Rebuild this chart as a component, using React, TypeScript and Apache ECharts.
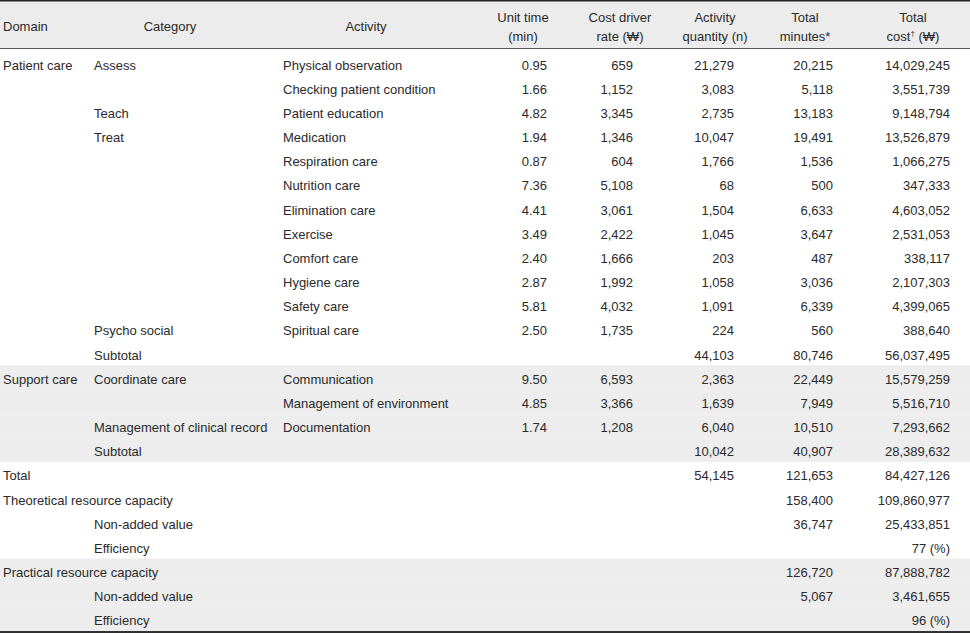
import React, { useEffect, useRef } from "react";
import * as echarts from "echarts";

// ---------- data ----------
const domainCol = [
  "Patient care", "", "", "", "", "", "", "", "", "", "", "", "",
  "Support care", "", "", "",
  "Total", "Theoretical resource capacity", "", "", "Practical resource capacity", "", "",
];
const categoryCol = [
  "Assess", "", "Teach", "Treat", "", "", "", "", "", "", "", "Psycho social", "Subtotal",
  "Coordinate care", "", "Management of clinical record", "Subtotal",
  "", "", "Non-added value", "Efficiency", "", "Non-added value", "Efficiency",
];
const activityCol = [
  "Physical observation", "Checking patient condition", "Patient education", "Medication",
  "Respiration care", "Nutrition care", "Elimination care", "Exercise", "Comfort care",
  "Hygiene care", "Safety care", "Spiritual care", "",
  "Communication", "Management of environment", "Documentation", "",
  "", "", "", "", "", "", "",
];
const unitTime = [
  0.95, 1.66, 4.82, 1.94, 0.87, 7.36, 4.41, 3.49, 2.4, 2.87, 5.81, 2.5, null,
  9.5, 4.85, 1.74, null, null, null, null, null, null, null, null,
];
const costDriverRate = [
  659, 1152, 3345, 1346, 604, 5108, 3061, 2422, 1666, 1992, 4032, 1735, null,
  6593, 3366, 1208, null, null, null, null, null, null, null, null,
];
const activityQuantity = [
  21279, 3083, 2735, 10047, 1766, 68, 1504, 1045, 203, 1058, 1091, 224, 44103,
  2363, 1639, 6040, 10042, 54145, null, null, null, null, null, null,
];
const totalMinutes = [
  20215, 5118, 13183, 19491, 1536, 500, 6633, 3647, 487, 3036, 6339, 560, 80746,
  22449, 7949, 10510, 40907, 121653, 158400, 36747, null, 126720, 5067, null,
];
const totalCost = [
  14029245, 3551739, 9148794, 13526879, 1066275, 347333, 4603052, 2531053, 338117,
  2107303, 4399065, 388640, 56037495, 15579259, 5516710, 7293662, 28389632,
  84427126, 109860977, 25433851, null, 87888782, 3461655, null,
];
const efficiencyPct = [
  null, null, null, null, null, null, null, null, null, null, null, null, null,
  null, null, null, null, null, null, null, 77, null, null, 96,
];
const shadedRows = [13, 14, 15, 16, 21, 22, 23];
const headerLines: string[][] = [
  ["Domain"], ["Category"], ["Activity"], ["Unit time", "(min)"], ["Cost driver", "rate (₩)"],
  ["Activity", "quantity (n)"], ["Total", "minutes*"], ["Total", "cost{s|†} (₩)"],
];

// ---------- layout ----------
const W = 970;
const H = 634;
const FONT = '"Liberation Sans", Arial, sans-serif';
const TXT = "#2a2a2a";
const SHADE = "#ededed";
const colLayout = [
  { x: 3, align: "left", hx: 3, halign: "left" },
  { x: 94, align: "left", hx: 170, halign: "center" },
  { x: 283, align: "left", hx: 366, halign: "center" },
  { x: 547, align: "right", hx: 523, halign: "center" },
  { x: 633, align: "right", hx: 620, halign: "center" },
  { x: 734, align: "right", hx: 715, halign: "center" },
  { x: 833, align: "right", hx: 805, halign: "center" },
  { x: 950, align: "right", hx: 913, halign: "center" },
];

const fmt = (v: number | null) => (v == null ? "" : v.toLocaleString("en-US"));

type Cell = { c: number; r: number; text: string };
const cells: Cell[] = [];
for (let r = 0; r < domainCol.length; r++) {
  const row = [
    domainCol[r],
    categoryCol[r],
    activityCol[r],
    unitTime[r] == null ? "" : (unitTime[r] as number).toFixed(2),
    fmt(costDriverRate[r]),
    fmt(activityQuantity[r]),
    fmt(totalMinutes[r]),
    efficiencyPct[r] != null ? `${efficiencyPct[r]} (%)` : fmt(totalCost[r]),
  ];
  row.forEach((t, c) => {
    if (t) cells.push({ c, r, text: t });
  });
}

export default function App() {
  const ref = useRef<HTMLDivElement>(null);
  useEffect(() => {
    if (!ref.current) return;
    const chart = echarts.init(ref.current, undefined, { renderer: "svg" });

    const headerEls: any[] = [
      { type: "rect", shape: { x: 0, y: 1.5, width: W, height: 47 }, style: { fill: "#ececec" }, z: 0 },
      { type: "line", shape: { x1: 0, y1: 0.75, x2: W, y2: 0.75 }, style: { stroke: "#231f20", lineWidth: 1.5 }, z: 5 },
      { type: "line", shape: { x1: 0, y1: 48.5, x2: W, y2: 48.5 }, style: { stroke: "#555", lineWidth: 1 }, z: 5 },
      { type: "line", shape: { x1: 0, y1: 632, x2: W, y2: 632 }, style: { stroke: "#333", lineWidth: 2 }, z: 5 },
    ];
    headerLines.forEach((lines, c) => {
      const L = colLayout[c];
      lines.forEach((t, k) => {
        const y = lines.length === 1 ? 26 : k === 0 ? 17 : 36;
        headerEls.push({
          type: "text",
          x: L.hx,
          y,
          z: 6,
          style: {
            text: t,
            fill: TXT,
            font: `13px ${FONT}`,
            fontSize: 13,
            fontFamily: FONT,
            align: L.halign,
            verticalAlign: "middle",
            textAlign: L.halign,
            textVerticalAlign: "middle",
            rich: { s: { fontSize: 8, fontFamily: FONT, fill: TXT, verticalAlign: "top", lineHeight: 14 } },
          },
        });
      });
    });

    chart.setOption({
      animation: false,
      grid: { left: 0, right: 0, top: 51, height: 580 },
      xAxis: { type: "value", min: 0, max: W, show: false },
      yAxis: {
        type: "category",
        inverse: true,
        show: false,
        data: domainCol.map((_, i) => String(i)),
      },
      graphic: { elements: headerEls },
      series: [
        {
          type: "custom",
          z: 1,
          silent: true,
          data: shadedRows.map((r) => [0, r]),
          renderItem: (_p: any, api: any) => {
            const y = api.coord([0, api.value(1)])[1];
            const h = api.size([0, 1])[1];
            return {
              type: "rect",
              shape: { x: 0, y: y - h / 2, width: W, height: h },
              style: { fill: SHADE },
            };
          },
        },
        {
          type: "custom",
          z: 3,
          silent: true,
          data: cells.map((d) => [d.c, d.r]),
          renderItem: (p: any, api: any) => {
            const cell = cells[p.dataIndex];
            const L = colLayout[cell.c];
            const y = api.coord([0, cell.r])[1];
            return {
              type: "text",
              x: L.x,
              y: y + 2,
              style: {
                text: cell.text,
                fill: TXT,
                font: `13px ${FONT}`,
                align: L.align,
                verticalAlign: "middle",
                textAlign: L.align,
                textVerticalAlign: "middle",
              },
            };
          },
        },
      ],
    });
    return () => chart.dispose();
  }, []);
  return (
    <div
      ref={ref}
      style={{ position: "fixed", left: 0, top: 0, width: W, height: H, background: "#fff" }}
    />
  );
}
